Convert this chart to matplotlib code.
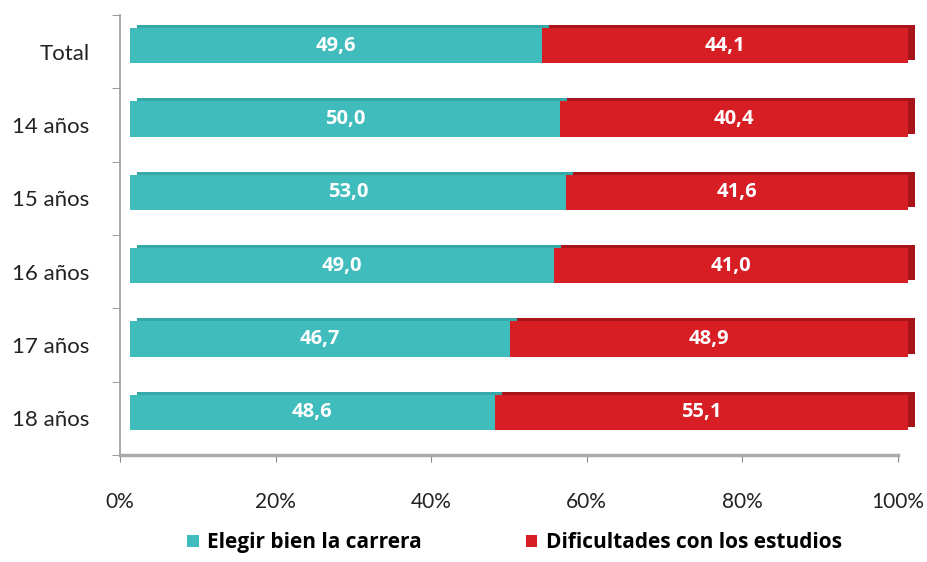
import matplotlib
matplotlib.use("Agg")
import matplotlib.pyplot as plt
import matplotlib.transforms as mtransforms
from matplotlib.patches import Patch
import numpy as np

categories = ["Total", "14 años", "15 años", "16 años", "17 años", "18 años"]
elegir = [49.6, 50.0, 53.0, 49.0, 46.7, 48.6]
dificultades = [44.1, 40.4, 41.6, 41.0, 48.9, 55.1]
series_names = ["Elegir bien la carrera", "Dificultades con los estudios"]
xticklabels = ["0%", "20%", "40%", "60%", "80%", "100%"]

teal = "#40BCBC"
teal_dark = "#35A8A8"
red = "#D81E25"
red_dark = "#A8141A"

plt.rcParams['font.family'] = ['Lato', 'DejaVu Sans']
bold_font = ['Open Sans', 'DejaVu Sans']

fig = plt.figure(figsize=(9.27, 5.62), dpi=100)
ax = fig.add_axes([120/927, 1-455/562, 778/927, 440/562])

e = np.array(elegir)
d = np.array(dificultades)
tot = e + d
ep = e / tot * 100
dp = d / tot * 100
y = np.arange(len(categories))
h = 0.48

front = ax.transData + mtransforms.ScaledTranslation(10/100, 6/100, fig.dpi_scale_trans)
back = ax.transData + mtransforms.ScaledTranslation(17/100, 9/100, fig.dpi_scale_trans)

# depth (back) faces
ax.barh(y, ep, height=h, color=teal_dark, transform=back, zorder=2, clip_on=False)
ax.barh(y, dp, left=ep, height=h, color=red_dark, transform=back, zorder=2, clip_on=False)
# front faces
ax.barh(y, ep, height=h, color=teal, transform=front, zorder=3, clip_on=False)
ax.barh(y, dp, left=ep, height=h, color=red, transform=front, zorder=3, clip_on=False)

for i in range(len(categories)):
    ax.text(ep[i]/2, y[i], f"{elegir[i]:.1f}".replace(".", ","), transform=front,
            ha="center", va="center", color="white", fontsize=14.5, fontweight="bold",
            family=bold_font, zorder=4)
    ax.text(ep[i] + dp[i]/2, y[i], f"{dificultades[i]:.1f}".replace(".", ","), transform=front,
            ha="center", va="center", color="white", fontsize=14.5, fontweight="bold",
            family=bold_font, zorder=4)

ax.set_xlim(0, 100)
ax.set_ylim(len(categories) - 0.5, -0.5)
ax.set_xticks(np.arange(0, 101, 20))
ax.set_xticklabels(xticklabels, fontsize=15, color="#222222")
ax.set_yticks(y)
ax.set_yticklabels(categories, fontsize=16, color="#222222")
ax.set_yticks(np.arange(-0.5, len(categories), 1), minor=True)
ax.tick_params(axis="y", which="major", length=0, pad=22)
ax.tick_params(axis="y", which="minor", length=6, color="#888888", direction="out")
ax.tick_params(axis="x", which="major", length=5, color="#888888", direction="out", pad=22)

for s in ["top", "right"]:
    ax.spines[s].set_visible(False)
ax.spines["left"].set_color("#999999")
ax.spines["left"].set_linewidth(1.2)
ax.spines["bottom"].set_color("#aaaaaa")
ax.spines["bottom"].set_linewidth(2.5)

handles = [Patch(facecolor=teal, edgecolor="none"), Patch(facecolor=red, edgecolor="none")]
fig.legend(handles, series_names, loc="lower center", bbox_to_anchor=(0.555, -0.018), ncol=2,
           frameon=False, prop={"weight": "bold", "size": 15, "family": bold_font}, handlelength=0.55,
           handleheight=0.55, handletextpad=0.4, columnspacing=5.0)

fig.savefig("out.png", dpi=100)
